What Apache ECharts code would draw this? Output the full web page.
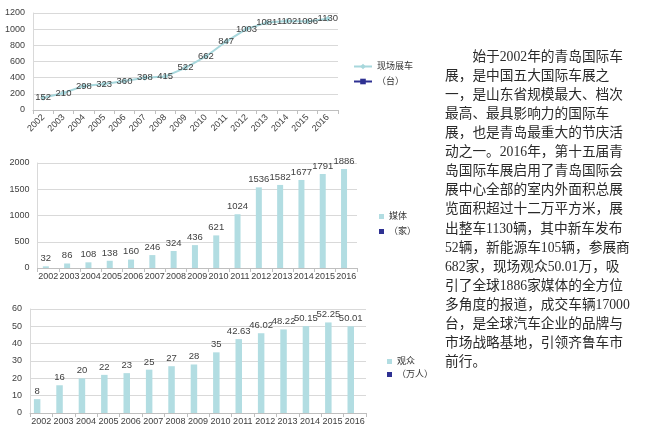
<!DOCTYPE html>
<html>
<head>
<meta charset="utf-8">
<script src="https://cdn.jsdelivr.net/npm/echarts@6/dist/echarts.min.js"></script>
<style>
html,body{margin:0;padding:0;background:#fff;}
#chart{width:650px;height:429px;}
</style>
</head>
<body>
<div id="chart"></div>
<script>
const years = ['2002','2003','2004','2005','2006','2007','2008','2009','2010','2011','2012','2013','2014','2015','2016'];
const carValues = [152,210,298,323,360,398,415,522,662,847,1003,1081,1102,1096,1130];
const mediaValues = [32,86,108,138,160,246,324,436,621,1024,1536,1582,1677,1791,1886];
const visitorValues = [8,16,20,22,23,25,27,28,35,42.63,46.02,48.22,50.15,52.25,50.01];
const carNames = ['现场展车','（台）'];
const mediaNames = ['媒体','（家）'];
const visitorNames = ['观众','（万人）'];
const textLines = [
  '　　始于2002年的青岛国际车',
  '展，是中国五大国际车展之',
  '一，是山东省规模最大、档次',
  '最高、最具影响力的国际车',
  '展，也是青岛最重大的节庆活',
  '动之一。2016年，第十五届青',
  '岛国际车展启用了青岛国际会',
  '展中心全部的室内外面积总展',
  '览面积超过十二万平方米，展',
  '出整车1130辆，其中新车发布',
  '52辆，新能源车105辆，参展商',
  '682家，现场观众50.01万，吸',
  '引了全球1886家媒体的全方位',
  '多角度的报道，成交车辆17000',
  '台，是全球汽车企业的品牌与',
  '市场战略基地，引领齐鲁车市',
  '前行。'
];

const lightColor = '#b2dde2';
const lineColor = '#a7d7dc';
const darkColor = '#2e3192';
const labelColor = '#404040';
const gridColor = '#d9d9d9';
const axisColor = '#bfbfbf';
const fontFam = "'Liberation Sans', Arial, 'Noto Sans CJK SC', sans-serif";

function xAxisCfg(gridIndex, rotate) {
  return {
    type: 'category', gridIndex: gridIndex, data: years,
    axisLine: {lineStyle: {color: axisColor}},
    axisTick: {show: true, lineStyle: {color: axisColor}, length: 4},
    axisLabel: {interval: 0, rotate: rotate, fontSize: 9, color: labelColor, margin: rotate ? 6 : 4, fontFamily: fontFam}
  };
}
function yAxisCfg(gridIndex, max, interval) {
  return {
    type: 'value', gridIndex: gridIndex, min: 0, max: max, interval: interval,
    axisLine: {show: true, lineStyle: {color: gridColor}},
    axisTick: {show: false},
    splitLine: {lineStyle: {color: gridColor}},
    axisLabel: {fontSize: 9, color: labelColor, margin: 8, fontFamily: fontFam,
      formatter: function (v) { return String(v); }}
  };
}
const barLabel = {show: true, position: 'top', distance: 3, fontSize: 9.5, color: labelColor, fontFamily: fontFam};

const chart = echarts.init(document.getElementById('chart'), null, {renderer: 'canvas'});
chart.setOption({
  animation: false,
  backgroundColor: '#fff',
  textStyle: {fontFamily: fontFam},
  grid: [
    {left: 33, top: 13, width: 305, height: 97},
    {left: 37.5, top: 163, width: 319.5, height: 105},
    {left: 30, top: 309, width: 336, height: 104}
  ],
  xAxis: [xAxisCfg(0, 45), xAxisCfg(1, 0), xAxisCfg(2, 0)],
  yAxis: [yAxisCfg(0, 1200, 200), yAxisCfg(1, 2000, 500), yAxisCfg(2, 60, 10)],
  legend: [
    {data: carNames, orient: 'vertical', left: 348, top: 57, itemWidth: 18, itemHeight: 7, itemGap: 6,
     textStyle: {fontSize: 9, color: '#333'}},
    {data: mediaNames, orient: 'vertical', left: 374, top: 207, icon: 'rect', itemWidth: 5, itemHeight: 5, itemGap: 6,
     textStyle: {fontSize: 9, color: '#333'}},
    {data: visitorNames, orient: 'vertical', left: 382, top: 352, icon: 'rect', itemWidth: 5, itemHeight: 5, itemGap: 4,
     textStyle: {fontSize: 9, color: '#333'}}
  ],
  series: [
    {name: carNames[0], type: 'line', xAxisIndex: 0, yAxisIndex: 0, data: carValues,
     symbol: 'diamond', symbolSize: 6, itemStyle: {color: lineColor}, lineStyle: {color: lineColor, width: 2},
     label: {show: true, position: 'inside', fontSize: 9.5, color: labelColor, fontFamily: fontFam}},
    {name: carNames[1], type: 'line', xAxisIndex: 0, yAxisIndex: 0, data: [],
     symbol: 'rect', symbolSize: 6, itemStyle: {color: darkColor}, lineStyle: {color: darkColor, width: 2}},
    {name: mediaNames[0], type: 'bar', xAxisIndex: 1, yAxisIndex: 1, data: mediaValues,
     barWidth: 6, barGap: '-23%', itemStyle: {color: lightColor}, label: barLabel},
    {name: mediaNames[1], type: 'bar', xAxisIndex: 1, yAxisIndex: 1, data: [],
     barWidth: 6, barGap: '-23%', itemStyle: {color: darkColor}},
    {name: visitorNames[0], type: 'bar', xAxisIndex: 2, yAxisIndex: 2, data: visitorValues,
     barWidth: 6.5, barGap: '25%', itemStyle: {color: lightColor}, label: barLabel},
    {name: visitorNames[1], type: 'bar', xAxisIndex: 2, yAxisIndex: 2, data: [],
     barWidth: 6.5, barGap: '25%', itemStyle: {color: darkColor}}
  ],
  graphic: [{
    type: 'text', left: 445, top: 47.5,
    style: {
      text: textLines.join('\n'),
      font: "13.7px 'Liberation Serif', 'Noto Sans CJK SC', serif",
      lineHeight: 19.1,
      fill: '#2a2a2a'
    }
  }]
});
</script>
</body>
</html>
